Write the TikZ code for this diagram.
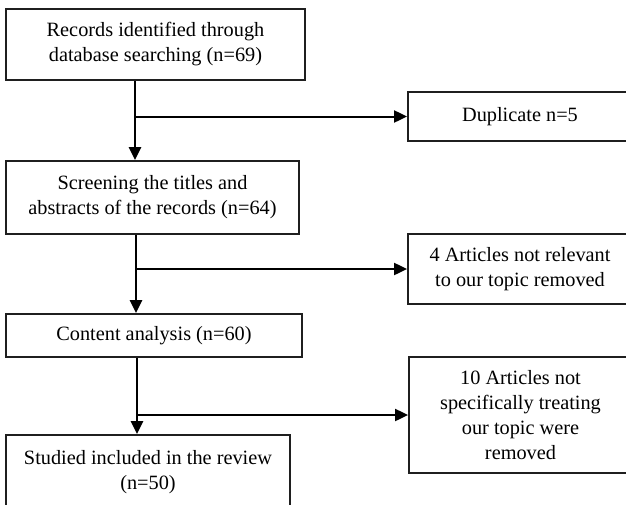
\documentclass[tikz,border=0pt]{standalone}
\usepackage{fontspec}
\setmainfont{Liberation Serif}
\usetikzlibrary{arrows.meta}
\begin{document}
\begin{tikzpicture}[x=1pt,y=-1pt,
  box/.style={draw=black!88,line width=1.8pt,rectangle,inner sep=0pt,align=center,
    font=\fontsize{20.3}{25}\selectfont},
  varr/.style={draw=black,line width=2.6pt,-{Triangle[length=13pt,width=12pt]}},
  harr/.style={draw=black,line width=2pt,-{Triangle[length=13pt,width=12pt]}}]
\clip (0,0) rectangle (626,504);
\fill[white] (0,0) rectangle (626,504);
\node[box,minimum width=299pt,minimum height=71pt] (b1) at (155.5,44.5) {Records identified through\\database searching (n=69)};
\node[box,minimum width=293pt,minimum height=73pt] (b2) at (152.5,197.5) {Screening the titles and\\abstracts of the records (n=64)};
\node[box,minimum width=296pt,minimum height=43pt] (b3) at (154,335.5) {Content analysis (n=60)};
\node[box,minimum width=284pt,minimum height=74pt] (b4) at (148,472) {Studied included in the review\\(n=50)};
\node[box,minimum width=224pt,minimum height=49pt] (d) at (520,116.5) {Duplicate n=5};
\node[box,minimum width=224pt,minimum height=70pt] (a4) at (520,269) {4 Articles not relevant\\to our topic removed};
\node[box,minimum width=223pt,minimum height=116pt] (a10) at (520.5,415) {10 Articles not\\specifically treating\\our topic were\\removed};
\coordinate (c1) at (135,0);
\coordinate (c2) at (136,0);
\coordinate (c3) at (137,0);
\draw[varr] (b1.south -| c1) -- (b2.north -| c1);
\draw[harr] (d.west -| c1) -- (d.west);
\draw[varr] (b2.south -| c2) -- (b3.north -| c2);
\draw[harr] (a4.west -| c2) -- (a4.west);
\draw[varr] (b3.south -| c3) -- (b4.north -| c3);
\draw[harr] (a10.west -| c3) -- (a10.west);
\end{tikzpicture}
\end{document}
